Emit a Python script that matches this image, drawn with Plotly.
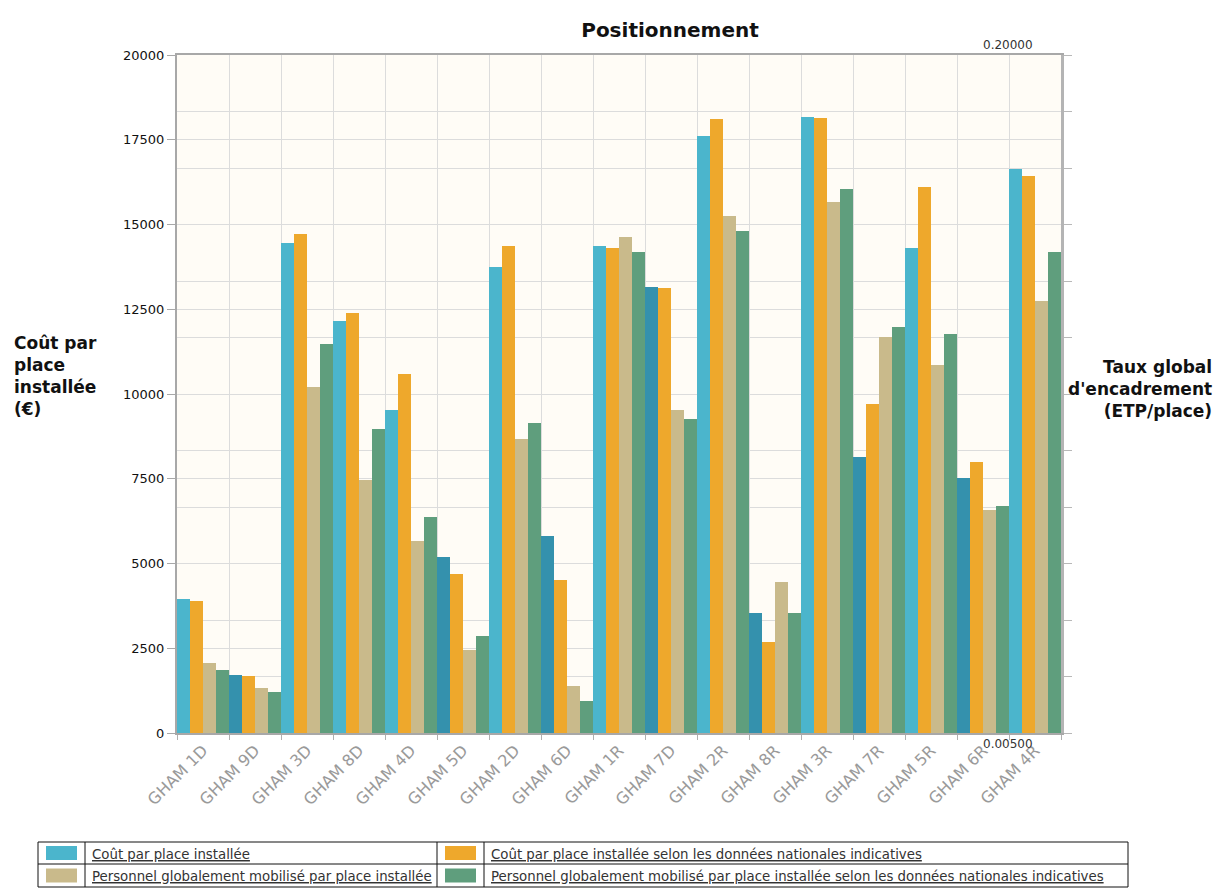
import plotly.graph_objects as go

categories = ["GHAM 1D", "GHAM 9D", "GHAM 3D", "GHAM 8D", "GHAM 4D", "GHAM 5D", "GHAM 2D",
              "GHAM 6D", "GHAM 1R", "GHAM 7D", "GHAM 2R", "GHAM 8R", "GHAM 3R", "GHAM 7R",
              "GHAM 5R", "GHAM 6R", "GHAM 4R"]

cout_place = [3950, 1700, 14450, 12150, 9520, 5200, 13750, 5810, 14380, 13150, 17610, 3530,
              18180, 8150, 14300, 7510, 16640]
cout_national = [3880, 1690, 14710, 12380, 10580, 4690, 14380, 4510, 14300, 13120, 18110, 2690,
                 18150, 9700, 16120, 7990, 16430]
personnel_place = [2060, 1320, 10210, 7470, 5660, 2450, 8670, 1390, 14620, 9530, 15260, 4460,
                   15670, 11690, 10850, 6580, 12750]
personnel_national = [1860, 1220, 11480, 8980, 6380, 2870, 9140, 930, 14180, 9260, 14820, 3530,
                      16050, 11970, 11770, 6700, 14190]

series_names = [
    "Coût par place installée",
    "Coût par place installée selon les données nationales indicatives",
    "Personnel globalement mobilisé par place installée",
    "Personnel globalement mobilisé par place installée selon les données nationales indicatives",
]
left_ticks = [0, 2500, 5000, 7500, 10000, 12500, 15000, 17500, 20000]
right_min, right_max = 0.005, 0.2
right_labels = ["0.00500", "0.20000"]

colors = ["#4bb5cc", "#eea82c", "#c9ba8b", "#5f9e7d"]
blue_shadow = "#3491ad"

W, H = 1218, 889
L, R, T, B = 177, 1061, 55, 733


def px_x(p):
    return (p - L) / (R - L)


def px_y(p):
    return (B - p) / (B - T)


# blue bars sitting in the shadow of the previous group's last bar look darker
blue_cols = [colors[0]] + [
    blue_shadow if personnel_national[i - 1] > cout_place[i] else colors[0]
    for i in range(1, len(categories))
]

fig = go.Figure()
series = [cout_place, cout_national, personnel_place, personnel_national]
for k, (name, vals) in enumerate(zip(series_names, series)):
    fig.add_trace(go.Bar(
        x=categories, y=vals, name=name,
        marker=dict(color=blue_cols if k == 0 else colors[k], line=dict(width=0)),
        showlegend=False,
    ))

# secondary axis (Taux global d'encadrement)
fig.add_trace(go.Scatter(x=[categories[0]], y=[None], yaxis="y2", mode="lines",
                         showlegend=False, hoverinfo="skip"))

step = (right_max - right_min) / 12
right_ticks = [right_min + i * step for i in range(13)]

fig.update_layout(
    width=W, height=H,
    margin=dict(l=L, r=W - R, t=T, b=H - B, pad=0),
    paper_bgcolor="white",
    plot_bgcolor="#fffcf6",
    barmode="group", bargap=0, bargroupgap=0,
    font=dict(family="DejaVu Sans", size=12, color="#222"),
    title=dict(text="Positionnement", x=670 / W, xanchor="center", y=1 - 30 / H,
               yanchor="middle", font=dict(family="DejaVu Sans", size=20, color="#111",
                                           weight="bold")),
    xaxis=dict(
        type="category", tickson="boundaries", ticks="outside", ticklen=5,
        tickcolor="#b0b0b0", tickangle=-45, showgrid=True, gridcolor="#dcdcdc",
        gridwidth=1, showline=True, linecolor="#a8a8a8", linewidth=2, mirror=True,
        tickfont=dict(family="DejaVu Sans", size=16, color="#9a9a9a"),
    ),
    yaxis=dict(
        range=[0, 20000], tickvals=left_ticks, ticktext=[str(v) for v in left_ticks],
        ticks="outside", ticklen=8, tickcolor="#a8a8a8", showgrid=True,
        gridcolor="#dcdcdc", showline=True, linecolor="#a8a8a8", linewidth=2,
        zeroline=False, tickfont=dict(family="DejaVu Sans", size=13, color="#111"),
    ),
    yaxis2=dict(
        overlaying="y", side="right", range=[right_min, right_max], tickvals=right_ticks,
        showticklabels=False, ticks="outside", ticklen=8, tickcolor="#b8b8b8",
        showgrid=True, gridcolor="#dcdcdc", showline=True, linecolor="#b4b4b4",
        linewidth=3, zeroline=False,
    ),
)

ann = []
ann.append(dict(text="Coût par<br>place<br>installée<br>(€)", xref="paper", yref="paper",
                x=px_x(12), y=px_y(376), xanchor="left", yanchor="middle", align="left",
                showarrow=False, font=dict(size=17, color="#111", weight="bold")))
ann.append(dict(text="Taux global<br>d'encadrement<br>(ETP/place)", xref="paper", yref="paper",
                x=px_x(1214), y=px_y(389), xanchor="right", yanchor="middle", align="right",
                showarrow=False, font=dict(size=17, color="#111", weight="bold")))
ann.append(dict(text=right_labels[1], xref="paper", yref="paper", x=px_x(1008), y=px_y(54),
                xanchor="center", yanchor="bottom", showarrow=False,
                font=dict(size=12, color="#333")))
ann.append(dict(text=right_labels[0], xref="paper", yref="paper", x=px_x(1008), y=px_y(735),
                xanchor="center", yanchor="top", showarrow=False,
                font=dict(size=12, color="#333")))

# legend table
tx0, tx1 = 38, 1128
ty = [842, 864, 887]
cols_x = [tx0, 85, 437, 484, tx1]
shapes = []
line_style = dict(color="#111", width=1)
for yy in ty:
    shapes.append(dict(type="line", xref="paper", yref="paper", x0=px_x(tx0), x1=px_x(tx1),
                       y0=px_y(yy), y1=px_y(yy), line=line_style))
for xx in cols_x:
    shapes.append(dict(type="line", xref="paper", yref="paper", x0=px_x(xx), x1=px_x(xx),
                       y0=px_y(ty[0]), y1=px_y(ty[2]), line=line_style))

cells = [(0, 0), (0, 1), (1, 0), (1, 1)]
for k, (row, col) in enumerate(cells):
    sx0 = cols_x[col * 2] + 8
    sx1 = cols_x[col * 2 + 1] - 8
    cy = (ty[row] + ty[row + 1]) / 2
    shapes.append(dict(type="rect", xref="paper", yref="paper", x0=px_x(sx0), x1=px_x(sx1),
                       y0=px_y(cy - 7), y1=px_y(cy + 7), fillcolor=colors[k],
                       line=dict(width=0)))
    ann.append(dict(text="<u>" + series_names[k] + "</u>", xref="paper", yref="paper",
                    x=px_x(cols_x[col * 2 + 1] + 5), y=px_y(cy), xanchor="left",
                    yanchor="middle", showarrow=False,
                    font=dict(family="DejaVu Sans Condensed, Liberation Sans Narrow, Liberation Sans",
                              size=14.8, color="#333")))

fig.update_layout(annotations=ann, shapes=shapes)
fig.write_html("out.html", config={"displayModeBar": False},
               post_script="document.body.style.margin='0';"
                           "document.body.style.overflow='hidden';")
